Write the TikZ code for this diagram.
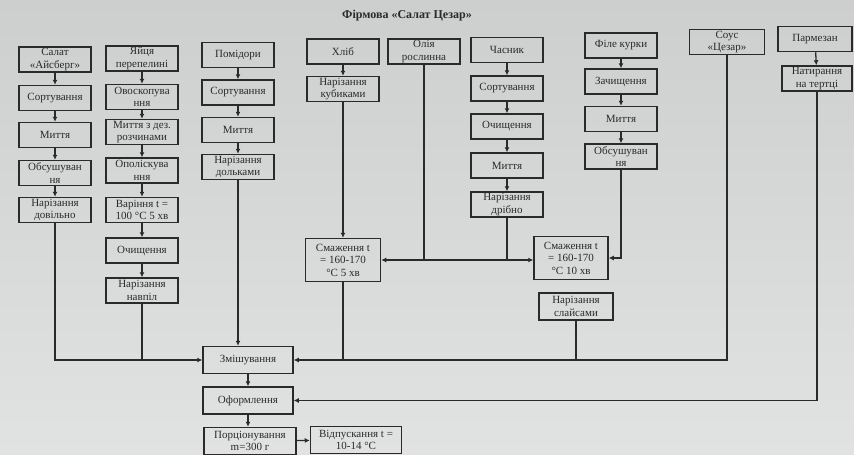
\documentclass[tikz,border=0pt]{standalone}
\usepackage{fontspec}
\setmainfont{Liberation Serif}
\usetikzlibrary{arrows.meta}

\definecolor{ink}{HTML}{2A2A2A}
\definecolor{papertop}{HTML}{CDCECE}
\definecolor{paperbot}{HTML}{E1E2E2}

\tikzset{
  stepbox/.style={draw=ink, line width=1.5pt, text=ink, inner sep=0pt,
    minimum width=72pt, minimum height=25pt, align=center,
    font=\fontsize{11}{12.5}\selectfont},
  tallbox/.style={stepbox, minimum width=75pt, minimum height=43pt},
  widebox/.style={stepbox, minimum width=90pt, minimum height=27pt},
  flow/.style={draw=ink, line width=1.3pt, -{Latex[length=5pt,width=5pt]}},
  wire/.style={draw=ink, line width=1.3pt},
}

\begin{document}
\begin{tikzpicture}[x=1pt, y=-1pt]
  % paper background
  \shade[top color=papertop, bottom color=paperbot] (0,0) rectangle (854,455);
  \useasboundingbox (0,0) rectangle (854,455);

  % title
  \node[text=ink, font=\fontsize{12}{14}\selectfont\bfseries] (title) at (407,16) {Фірмова «Салат Цезар»};

  % lettuce
  \node[stepbox] (a1) at (55,59.5) {Салат\\«Айсберг»};
  \node[stepbox] (a2) at (55,98) {Сортування};
  \node[stepbox] (a3) at (55,135) {Миття};
  \node[stepbox] (a4) at (55,173) {Обсушуван\\ня};
  \node[stepbox] (a5) at (55,210) {Нарізання\\довільно};

  % quail eggs
  \node[stepbox] (b1) at (142,58.5) {Яйця\\перепелині};
  \node[stepbox] (b2) at (142,97) {Овоскопува\\ння};
  \node[stepbox] (b3) at (142,132) {Миття з дез.\\розчинами};
  \node[stepbox] (b4) at (142,170.5) {Ополіскува\\ння};
  \node[stepbox] (b5) at (142,210) {Варіння t =\\100 °С 5 хв};
  \node[stepbox] (b6) at (142,250.5) {Очищення};
  \node[stepbox] (b7) at (142,290.5) {Нарізання\\навпіл};

  % tomatoes
  \node[stepbox] (c1) at (238,55) {Помідори};
  \node[stepbox] (c2) at (238,92.5) {Сортування};
  \node[stepbox] (c3) at (238,130) {Миття};
  \node[stepbox] (c4) at (238,167) {Нарізання\\дольками};

  % bread
  \node[stepbox] (d1) at (343,51.5) {Хліб};
  \node[stepbox] (d2) at (343,89) {Нарізання\\кубиками};

  % oil
  \node[stepbox] (o1) at (424,51.5) {Олія\\рослинна};

  % garlic
  \node[stepbox] (e1) at (507,50) {Часник};
  \node[stepbox] (e2) at (507,88.5) {Сортування};
  \node[stepbox] (e3) at (507,126.5) {Очищення};
  \node[stepbox] (e4) at (507,165.5) {Миття};
  \node[stepbox] (e5) at (507,204.5) {Нарізання\\дрібно};

  % chicken
  \node[stepbox] (f1) at (621,45.5) {Філе курки};
  \node[stepbox] (f2) at (621,81.5) {Зачищення};
  \node[stepbox] (f3) at (621,119) {Миття};
  \node[stepbox] (f4) at (621,156.5) {Обсушуван\\ня};

  % sauce
  \node[stepbox, minimum width=75pt] (s1) at (727,42) {Соус\\«Цезар»};

  % parmesan
  \node[stepbox, minimum width=74pt] (p1) at (815,39) {Пармезан};
  \node[stepbox, minimum width=70pt] (p2) at (817,78.5) {Натирання\\на тертці};

  % frying and slicing
  \node[tallbox] (g1) at (343,260) {Смаження t\\= 160-170\\°С 5 хв};
  \node[tallbox, minimum width=74pt] (g2) at (571,258) {Смаження t\\= 160-170\\°С 10 хв};
  \node[stepbox, minimum width=74pt, minimum height=27pt] (g3) at (576,306.5) {Нарізання\\слайсами};

  % final steps
  \node[widebox] (h1) at (248,360) {Змішування};
  \node[widebox] (h2) at (248,400.5) {Оформлення};
  \node[widebox, minimum width=92pt] (h3) at (250,441) {Порціонування\\m=300 г};
  \node[widebox, minimum width=91pt] (h4) at (356,440) {Відпускання t =\\10-14 °С};

  % column chains
  \foreach \u/\v in {a1/a2,a2/a3,a3/a4,a4/a5,
                     b1/b2,b2/b3,b3/b4,b4/b5,b5/b6,b6/b7,
                     c1/c2,c2/c3,c3/c4,
                     d1/d2,
                     e1/e2,e2/e3,e3/e4,e4/e5,
                     f1/f2,f2/f3,f3/f4,
                     p1/p2}
    \draw[flow] (\u) -- (\v);

  % bread to frying
  \draw[flow] (d2) -- (g1);

  % oil and garlic to both pans
  \coordinate (jo) at (o1 |- g1.east);
  \draw[wire] (o1) -- (jo);
  \draw[wire] (e5) -- (e5 |- jo);
  \draw[flow] (jo) -- (g1.east);
  \draw[flow] (jo) -- (g1.east -| g2.west);

  % chicken to frying
  \draw[flow] (f4) |- (g2.east);

  % left feed into mixing
  \draw[flow] (a5) |- (h1.west);
  \draw[wire] (b7) -- (b7 |- h1.west);

  % tomatoes into mixing
  \draw[flow] (c4) -- (c4 |- h1.north);

  % right feed into mixing
  \draw[flow] (s1) |- (h1.east);
  \draw[wire] (g1) -- (g1 |- h1.east);
  \draw[wire] (g3) -- (g3 |- h1.east);

  % parmesan to garnish
  \draw[flow] (p2) |- (h2.east);

  % final sequence
  \draw[flow] (h1) -- (h1 |- h2.north);
  \draw[flow] (h2) -- (h2 |- h3.north);
  \draw[flow] (h3) -- (h4);
\end{tikzpicture}
\end{document}
